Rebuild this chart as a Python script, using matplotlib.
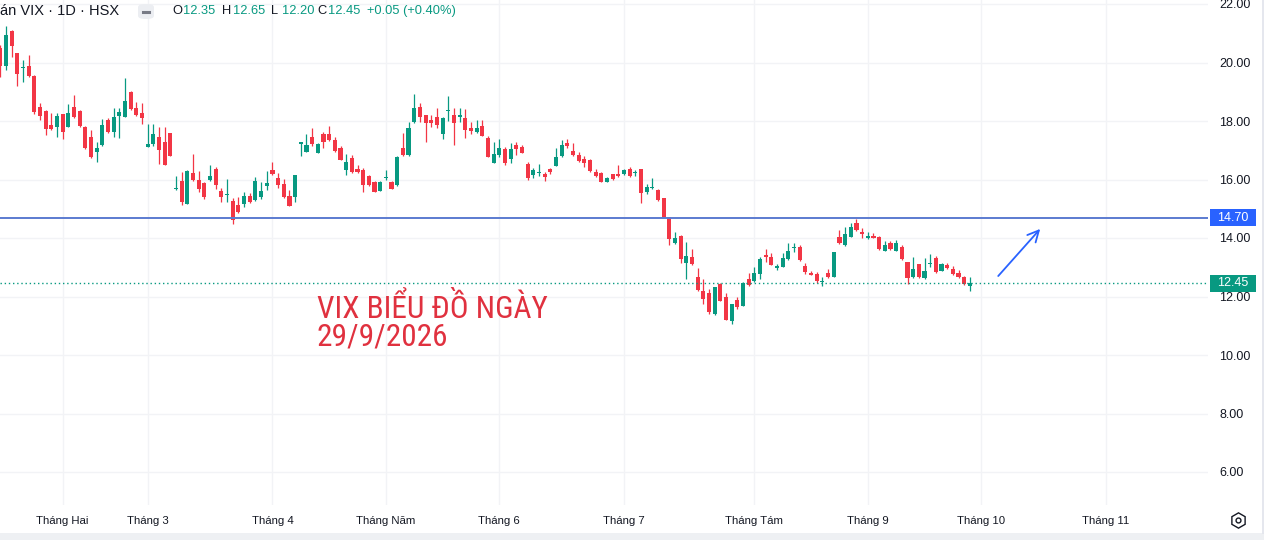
import matplotlib
matplotlib.use("Agg")
import matplotlib.pyplot as plt
from matplotlib import font_manager
from matplotlib.font_manager import FontProperties
from matplotlib.patches import Rectangle, FancyBboxPatch
from matplotlib.lines import Line2D
import numpy as np

# ---------------- data ----------------
opens = [20.48, 19.88, 21.09, 20.31, 19.80, 19.88, 19.55, 18.49, 18.35, 17.88,
         17.80, 18.23, 17.80, 18.47, 18.35, 17.80, 17.46, 16.95, 17.18, 18.03,
         17.63, 18.17, 18.15, 18.98, 18.43, 18.26, 17.12, 17.21, 17.44, 17.29,
         17.58, 15.69, 15.96, 15.17, 16.21, 16.00, 15.89, 15.98, 16.36, 15.62,
         15.47, 15.27, 15.13, 15.16, 15.45, 15.30, 15.41, 15.79, 16.33, 16.04,
         15.85, 15.45, 15.41, 17.20, 16.95, 17.44, 16.92, 17.56, 17.56, 17.35,
         17.07, 16.33, 16.75, 16.35, 16.32, 16.13, 15.93, 15.61, 16.04, 15.93,
         15.81, 17.07, 16.84, 17.95, 18.49, 18.20, 18.03, 18.15, 17.54, 18.34,
         18.20, 18.15, 18.09, 17.77, 17.61, 17.84, 17.41, 16.58, 16.84, 17.03,
         16.70, 17.18, 17.12, 16.53, 16.15, 16.21, 16.18, 16.35, 16.47, 16.80,
         17.24, 16.98, 16.84, 16.69, 16.67, 16.27, 16.21, 15.93, 16.18, 16.18,
         16.18, 16.35, 16.22, 16.35, 15.58, 15.72, 15.64, 15.36, 14.71, 13.82,
         14.07, 13.16, 13.36, 12.66, 12.19, 12.13, 11.39, 12.42, 11.99, 11.17,
         11.88, 11.68, 12.60, 12.54, 12.77, 13.42, 13.36, 12.99, 13.02, 13.28,
         13.65, 13.70, 13.04, 12.81, 12.76, 12.48, 12.79, 12.66, 14.02, 13.76,
         14.05, 14.50, 14.22, 14.00, 14.07, 14.04, 13.57, 13.82, 13.57, 13.68,
         13.17, 12.65, 13.10, 12.62, 13.10, 13.33, 12.88, 13.08, 12.94, 12.79,
         12.68, 12.35]
highs = [20.60, 21.25, 21.12, 20.33, 20.08, 20.25, 19.57, 18.60, 18.37, 18.26,
         18.26, 18.25, 18.58, 18.88, 18.37, 17.82, 17.69, 17.29, 18.07, 18.09,
         18.43, 18.43, 19.46, 19.04, 18.66, 18.60, 17.90, 17.89, 17.78, 17.80,
         17.60, 16.13, 16.27, 16.31, 16.86, 16.30, 15.90, 16.50, 16.44, 15.70,
         16.02, 15.38, 15.41, 15.58, 15.55, 16.07, 15.92, 16.30, 16.61, 16.21,
         16.02, 15.64, 16.16, 17.27, 17.55, 17.75, 17.25, 17.64, 17.83, 17.47,
         17.16, 16.86, 16.84, 16.50, 16.38, 16.15, 15.95, 15.95, 16.33, 15.95,
         16.80, 17.58, 17.95, 18.91, 18.60, 18.22, 18.20, 18.46, 18.15, 18.87,
         18.46, 18.43, 18.41, 17.95, 18.03, 18.03, 17.50, 17.27, 17.37, 17.10,
         17.24, 17.27, 17.18, 16.60, 16.38, 16.52, 16.25, 16.41, 17.09, 17.35,
         17.37, 17.26, 16.95, 16.81, 16.70, 16.35, 16.27, 16.10, 16.20, 16.50,
         16.36, 16.44, 16.33, 16.37, 15.85, 16.04, 15.66, 15.37, 14.72, 14.22,
         14.10, 13.87, 13.61, 12.96, 12.60, 12.24, 12.32, 12.47, 12.11, 11.76,
         11.99, 12.49, 12.79, 13.00, 13.36, 13.61, 13.48, 13.11, 13.48, 13.84,
         13.82, 13.76, 13.16, 12.87, 12.83, 12.66, 12.94, 13.52, 14.27, 14.37,
         14.50, 14.65, 14.33, 14.22, 14.16, 14.07, 13.90, 13.91, 13.93, 13.76,
         13.19, 13.36, 13.12, 13.30, 13.45, 13.38, 13.16, 13.16, 13.04, 12.91,
         12.70, 12.65]
lows = [19.52, 19.74, 20.20, 19.20, 19.34, 19.49, 18.23, 18.03, 17.52, 17.70,
        17.44, 17.38, 17.78, 18.10, 17.80, 17.05, 16.75, 16.61, 17.14, 17.58,
        17.46, 17.41, 18.15, 18.38, 18.17, 17.90, 17.10, 17.15, 16.53, 16.49,
        16.80, 15.64, 15.13, 15.15, 15.96, 15.58, 15.33, 15.95, 15.66, 15.24,
        15.24, 14.48, 14.87, 15.05, 15.20, 15.28, 15.33, 15.64, 16.15, 15.70,
        15.38, 15.08, 15.24, 16.80, 16.93, 17.15, 16.90, 17.09, 17.30, 16.95,
        16.65, 16.15, 16.22, 16.22, 15.56, 15.79, 15.56, 15.59, 15.98, 15.66,
        15.79, 16.82, 16.80, 17.92, 17.95, 17.27, 17.80, 17.77, 17.38, 18.00,
        17.18, 17.98, 17.41, 17.56, 17.60, 17.48, 16.77, 16.55, 16.78, 16.50,
        16.55, 16.84, 16.90, 15.98, 16.04, 16.13, 15.96, 16.18, 16.45, 16.78,
        17.07, 16.82, 16.60, 16.44, 16.27, 16.07, 15.90, 15.90, 16.00, 16.10,
        16.16, 16.10, 16.13, 15.18, 15.50, 15.66, 15.28, 14.72, 13.76, 13.80,
        13.13, 12.60, 13.09, 12.20, 11.74, 11.39, 11.38, 11.84, 11.19, 11.06,
        11.57, 11.66, 12.37, 12.50, 12.60, 13.19, 13.06, 12.91, 13.00, 13.26,
        13.51, 13.23, 12.76, 12.72, 12.47, 12.36, 12.63, 12.65, 13.80, 13.73,
        14.03, 14.25, 14.01, 13.98, 13.99, 13.60, 13.55, 13.59, 13.55, 13.25,
        12.42, 12.63, 12.63, 12.60, 13.02, 12.81, 12.86, 12.94, 12.75, 12.63,
        12.40, 12.20]
closes = [19.88, 20.94, 20.56, 19.61, 19.83, 19.54, 18.32, 18.17, 17.73, 17.72,
          18.18, 17.63, 18.26, 18.15, 17.83, 17.06, 16.78, 17.06, 17.88, 17.63,
          18.15, 18.32, 18.68, 18.40, 18.20, 18.09, 17.21, 17.54, 17.00, 16.50,
          16.82, 15.72, 15.22, 16.30, 15.98, 15.67, 15.41, 16.13, 15.81, 15.41,
          15.52, 14.61, 14.90, 15.44, 15.22, 15.95, 15.60, 15.89, 16.18, 15.81,
          15.41, 15.10, 16.15, 17.27, 17.18, 17.20, 17.21, 17.29, 17.35, 16.97,
          16.67, 16.59, 16.25, 16.25, 15.81, 15.81, 15.58, 15.93, 16.09, 15.68,
          16.78, 16.84, 17.75, 18.46, 18.15, 17.92, 17.92, 17.86, 18.11, 18.37,
          17.92, 18.20, 17.69, 17.67, 17.77, 17.50, 16.78, 16.86, 17.07, 16.58,
          17.03, 17.04, 16.92, 16.06, 16.32, 16.27, 16.10, 16.27, 16.78, 17.18,
          17.15, 16.84, 16.63, 16.58, 16.29, 16.13, 15.93, 16.06, 16.01, 16.13,
          16.33, 16.13, 16.26, 15.53, 15.74, 15.75, 15.30, 14.73, 13.97, 14.01,
          13.28, 13.40, 13.11, 12.22, 11.90, 11.48, 12.31, 11.86, 11.20, 11.74,
          11.65, 12.47, 12.39, 12.79, 13.28, 13.34, 13.08, 13.03, 13.30, 13.57,
          13.68, 13.25, 12.83, 12.74, 12.54, 12.51, 12.65, 13.51, 13.82, 14.14,
          14.39, 14.27, 14.14, 14.07, 14.01, 13.62, 13.76, 13.61, 13.82, 13.27,
          12.62, 12.93, 12.65, 12.88, 13.14, 12.83, 13.10, 12.96, 12.77, 12.65,
          12.42, 12.45]

# bar index of the first session of each month, and the labels
month_pos = [11, 26, 48, 68, 88, 110, 133, 153, 173, 195]
month_labels = ["Tháng Hai", "Tháng 3", "Tháng 4", "Tháng Năm", "Tháng 6",
                "Tháng 7", "Tháng Tám", "Tháng 9", "Tháng 10", "Tháng 11"]
y_ticks = [6, 8, 10, 12, 14, 16, 18, 20, 22]

level_price = 14.70      # drawn horizontal line
last_price = 12.45       # last close
header_title = "án VIX · 1D · HSX"
header_ohlc = [("O", "12.35"), ("H", "12.65"), ("L", "12.20"), ("C", "12.45")]
header_change = "+0.05 (+0.40%)"
note_lines = ["VIX BIỂU ĐỒ NGÀY", "29/9/2026"]
arrow_from = (176.0, 12.70)   # (bar index, price)
arrow_to = (183.4, 14.31)

# ---------------- style / layout ----------------
GREEN = "#089981"
RED = "#f23645"
BLUE = "#2962ff"
TEXT = "#131722"
GRID = "#f2f3f6"

W, H = 1264, 540
PLOT_RIGHT = 1208
PLOT_BOTTOM = 505
BAR_PX = 5.67
X0_PX = 0.3
PX_PER_UNIT = 29.25
Y_TOP = 22 + 4 / PX_PER_UNIT

names = {f.name for f in font_manager.fontManager.ttflist}
SANS = "Liberation Sans" if "Liberation Sans" in names else "DejaVu Sans"

# find a condensed face for the red note (still real text)
note_fp = None
note_size = 18
prefs = ["LiberationSansNarrow-Regular", "RobotoCondensed-Regular",
         "Roboto_Condensed-Regular", "OpenSans_Condensed-Regular",
         "OpenSansCondensed-Regular", "DejaVuSansCondensed.ttf"]
files = [f.fname for f in font_manager.fontManager.ttflist]
for p in prefs:
    hit = [fn for fn in files if p.lower() in fn.lower().replace(" ", "")]
    if hit:
        note_fp = FontProperties(fname=hit[0])
        note_size = {"LiberationSansNarrow-Regular": 22,
                     "RobotoCondensed-Regular": 22.5,
                     "Roboto_Condensed-Regular": 22.5,
                     "OpenSans_Condensed-Regular": 21,
                     "OpenSansCondensed-Regular": 21,
                     "DejaVuSansCondensed.ttf": 17.5}[p]
        break
if note_fp is None:
    note_fp = FontProperties(family=SANS)

fig = plt.figure(figsize=(W / 100, H / 100), dpi=100)
fig.patch.set_facecolor("white")
ax = fig.add_axes([0, (H - PLOT_BOTTOM) / H, PLOT_RIGHT / W, PLOT_BOTTOM / H])
ax.set_xlim((0 - X0_PX) / BAR_PX, (PLOT_RIGHT - X0_PX) / BAR_PX)
ax.set_ylim(Y_TOP - PLOT_BOTTOM / PX_PER_UNIT, Y_TOP)

for s in ax.spines.values():
    s.set_visible(False)

ax.set_yticks(y_ticks)
ax.set_yticklabels([f"{v:.2f}" for v in y_ticks])
ax.yaxis.tick_right()
ax.tick_params(axis="y", length=0, pad=8, labelsize=9, labelcolor=TEXT)
for lab in ax.get_yticklabels():
    lab.set_fontfamily(SANS)
ax.set_xticks(month_pos)
ax.set_xticklabels(month_labels)
ax.tick_params(axis="x", length=0, pad=8, labelsize=8.2, labelcolor=TEXT)
for lab in ax.get_xticklabels():
    lab.set_fontfamily(SANS)
ax.grid(True, color=GRID, lw=1, zorder=0)
ax.set_axisbelow(True)

# candles
o = np.array(opens); h = np.array(highs); l = np.array(lows); c = np.array(closes)
idx = np.arange(len(o))
cols = np.where(c >= o, GREEN, RED)
ax.vlines(idx, l, h, colors=cols, lw=0.9, zorder=2)
ax.bar(idx, np.maximum(np.abs(c - o), 0.035), bottom=np.minimum(o, c), width=0.72,
       color=cols, edgecolor="none", zorder=3)

# level line and last-price line
ax.axhline(level_price, color="#5b7bd0", lw=1.4, zorder=4)
ax.axhline(last_price, color=GREEN, lw=1.0, ls=(0, (1, 2)), zorder=4)

# arrow
ax.annotate("", xy=arrow_to, xytext=arrow_from,
            arrowprops=dict(arrowstyle="->,head_length=0.8,head_width=0.4",
                            color="#2962ff", lw=1.3, shrinkA=0, shrinkB=0))

# price tags on the right axis
def price_tag(price, color):
    y_px = 4 + (22 - price) * PX_PER_UNIT
    fig.add_artist(Rectangle((1210 / W, 1 - (y_px + 8.5) / H), 46 / W, 17 / H,
                             transform=fig.transFigure, facecolor=color,
                             edgecolor="none", zorder=5))
    fig.text(1233 / W, 1 - y_px / H, f"{price:.2f}", color="white", fontsize=9,
             family=SANS, ha="center", va="center", zorder=6)

price_tag(level_price, BLUE)
price_tag(last_price, GREEN)

# header
fig.text(0, 1 - 11 / H, header_title, fontsize=10.5, family=SANS, color=TEXT,
         va="center", ha="left")
fig.add_artist(FancyBboxPatch((138 / W, 1 - 19 / H), 16 / W, 15 / H,
                              boxstyle="round,pad=0,rounding_size=0.006",
                              transform=fig.transFigure, facecolor="#eceef2",
                              edgecolor="none"))
fig.add_artist(Line2D([143 / W, 149 / W], [1 - 11.5 / H, 1 - 11.5 / H],
                      transform=fig.transFigure, color="#787b86", lw=2.2))
xs = [172, 222, 271, 317]
for (k, v), x in zip(header_ohlc, xs):
    fig.text(x / W, 1 - 11 / H, k, fontsize=9.3, family=SANS, color=TEXT,
             va="center", ha="left")
    fig.text((x + 11) / W, 1 - 11 / H, v, fontsize=9.3, family=SANS, color=GREEN,
             va="center", ha="left")
fig.text(367 / W, 1 - 11 / H, header_change, fontsize=9.3, family=SANS,
         color=GREEN, va="center", ha="left")

# annotation text
fig.text(317 / W, 1 - 318 / H, note_lines[0], fontproperties=note_fp,
         fontsize=note_size, color="#e0313f", va="baseline", ha="left")
fig.text(317 / W, 1 - 345 / H, note_lines[1], fontproperties=note_fp,
         fontsize=note_size, color="#e0313f", va="baseline", ha="left")

# frame bits: right border, bottom band, settings icon
fig.add_artist(Line2D([1262.5 / W, 1262.5 / W], [7 / H, 1], transform=fig.transFigure,
                      color="#e0e3eb", lw=1.2))
fig.add_artist(Rectangle((0, 0), 1, 7 / H, transform=fig.transFigure,
                         facecolor="#eef0f3", edgecolor="none"))
fig.add_artist(Line2D([1238 / W], [1 - 520 / H], transform=fig.transFigure,
                      marker="h", markersize=11, markerfacecolor="none",
                      markeredgecolor=TEXT, markeredgewidth=1.0, ls="none"))
fig.add_artist(Line2D([1238 / W], [1 - 520 / H], transform=fig.transFigure,
                      marker="o", markersize=3.5, markerfacecolor="none",
                      markeredgecolor=TEXT, markeredgewidth=1.0, ls="none"))

fig.savefig("out.png", dpi=100, facecolor="white")
